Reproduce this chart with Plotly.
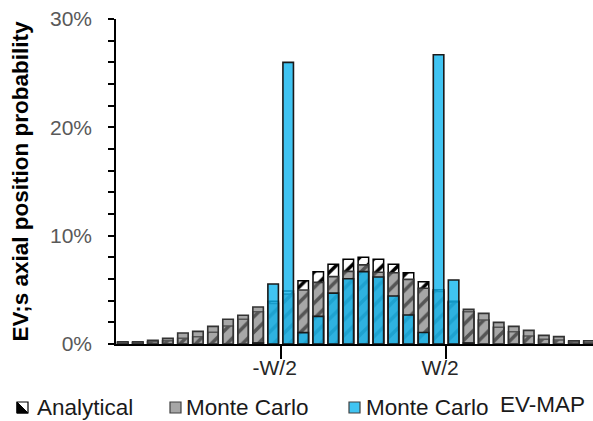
import plotly.graph_objects as go

# Axial position bins (bin index along the channel)
bins = list(range(32))

# Probability (%) of each axial bin
analytical = [0.10, 0.12, 0.20, 0.30, 0.52, 0.68, 1.08, 1.66, 2.28, 2.98,
              3.95, 4.90, 5.85, 6.68, 7.36, 7.82, 8.00, 7.82, 7.36, 6.58,
              5.75, 5.00, 3.95, 2.98, 2.22, 1.54, 1.14, 0.74, 0.43, 0.37,
              0.18, 0.15]
monte_carlo = [0.21, 0.21, 0.34, 0.52, 1.02, 1.17, 1.63, 2.28, 2.65, 3.42,
               3.75, 4.60, 4.98, 5.69, 6.22, 6.70, 7.30, 6.62, 6.58, 5.97,
               5.14, 4.85, 3.85, 3.20, 2.83, 2.00, 1.63, 1.26, 0.80, 0.68,
               0.30, 0.30]
monte_carlo_evmap = [None, None, None, None, None, None, None, None, None, 0.10,
                     5.54, 26.0, 1.05, 2.55, 4.70, 6.03, 6.68, 6.18, 4.43, 2.68,
                     1.06, 26.7, 5.91, 0.10, None, None, None, None, None, None,
                     None, None]

# Channel edges sit on the bin boundaries
edge_ticks = [10.5, 21.5]
edge_labels = ["-W/2", "W/2"]

FONT = "Liberation Sans, Arial, sans-serif"
BAR_W = 0.7

fig = go.Figure()
fig.add_trace(go.Bar(
    x=bins, y=analytical, width=BAR_W, name="Analytical",
    marker=dict(color="white", line=dict(color="black", width=1.5),
                pattern=dict(shape="/", fgcolor="black", bgcolor="white",
                             size=11, solidity=0.32, fillmode="replace")),
))
fig.add_trace(go.Bar(
    x=bins, y=monte_carlo, width=BAR_W, name="Monte Carlo",
    marker=dict(color="rgba(125,125,125,0.68)",
                line=dict(color="#333333", width=1.6)),
))
fig.add_trace(go.Bar(
    x=bins, y=monte_carlo_evmap, width=BAR_W, name="Monte Carlo EV-MAP",
    marker=dict(color="rgba(16,181,239,0.8)",
                line=dict(color="#1a1a1a", width=1.6)),
))

L, R, T, B = 116, 0, 19, 77
W, H = 593, 421
PW, PH = W - L - R, H - T - B


def px(x):
    return (x - L) / PW


def py(y):
    return (H - B - y) / PH


# Legend drawn beneath the axis
shapes = []
annotations = []
legend_y = 407.5
sq = 11
items = [
    (17, "Analytical", 35),
    (170, "Monte Carlo", 184),
    (349, "Monte Carlo", 364),
]
# hatched key
x0 = items[0][0]
shapes.append(dict(type="rect", xref="paper", yref="paper",
                   x0=px(x0), x1=px(x0 + sq), y0=py(legend_y + sq / 2), y1=py(legend_y - sq / 2),
                   fillcolor="white", line=dict(color="black", width=1.2)))
shapes.append(dict(type="path", xref="paper", yref="paper",
                   path=f"M {px(x0)},{py(legend_y + sq / 2)} L {px(x0 + sq)},{py(legend_y + sq / 2)} "
                        f"L {px(x0)},{py(legend_y - sq / 2)} Z",
                   fillcolor="black", line=dict(color="black", width=1)))
# grey key
x0 = items[1][0]
shapes.append(dict(type="rect", xref="paper", yref="paper",
                   x0=px(x0), x1=px(x0 + sq), y0=py(legend_y + sq / 2), y1=py(legend_y - sq / 2),
                   fillcolor="#a6a6a6", line=dict(color="#404040", width=1.2)))
# blue key
x0 = items[2][0]
shapes.append(dict(type="rect", xref="paper", yref="paper",
                   x0=px(x0), x1=px(x0 + sq), y0=py(legend_y + sq / 2), y1=py(legend_y - sq / 2),
                   fillcolor="#40c4f2", line=dict(color="#404040", width=1.2)))
for _, label, tx in items:
    annotations.append(dict(text=label, xref="paper", yref="paper", x=px(tx), y=py(legend_y),
                            xanchor="left", yanchor="middle", showarrow=False,
                            font=dict(family=FONT, size=22.5, color="#1a1a1a")))
annotations.append(dict(text="EV-MAP", xref="paper", yref="paper", x=px(498), y=py(404),
                        xanchor="left", yanchor="middle", showarrow=False,
                        font=dict(family=FONT, size=22.5, color="#1a1a1a")))

fig.update_layout(
    width=W, height=H,
    margin=dict(l=L, r=R, t=T, b=B, pad=0),
    barmode="overlay",
    showlegend=False,
    plot_bgcolor="white", paper_bgcolor="white",
    shapes=shapes, annotations=annotations,
    xaxis=dict(range=[-0.45, 31.27], tickmode="array", tickvals=edge_ticks, ticktext=edge_labels,
               showline=True, linecolor="black", linewidth=1.5, ticks="outside", ticklen=13,
               tickwidth=1.5, tickcolor="black", showgrid=False, zeroline=False,
               ticklabelshift=-6, ticklabelstandoff=-9,
               tickfont=dict(family=FONT, size=21, color="#262626")),
    yaxis=dict(range=[0, 30], tickmode="linear", tick0=0, dtick=10, ticksuffix="%",
               showline=True, linecolor="black", linewidth=1.5, ticks="outside", ticklen=6,
               tickwidth=1.5, tickcolor="black", showgrid=False, zeroline=False,
               minor=dict(dtick=2, ticks="outside", ticklen=6, tickwidth=1.5, tickcolor="black",
                          showgrid=False),
               ticklabelstandoff=12,
               tickfont=dict(family=FONT, size=21, color="#595959"),
               title=dict(text="<b>EV;s axial position probability</b>", standoff=15,
                          font=dict(family=FONT, size=22.5, color="black"))),
)

fig.write_html("out.html")
